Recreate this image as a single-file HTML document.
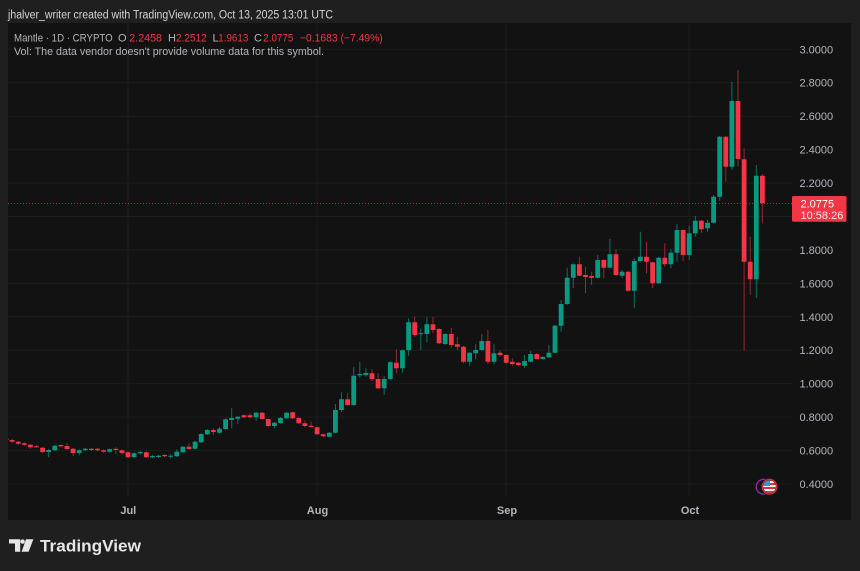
<!DOCTYPE html>
<html><head><meta charset="utf-8"><style>
html,body{margin:0;padding:0;background:#1f1f1f;}
svg{display:block;font-family:"Liberation Sans",sans-serif;}
</style></head><body>
<svg width="860" height="571" viewBox="0 0 860 571" xmlns="http://www.w3.org/2000/svg">
<defs><clipPath id="pa"><rect x="8" y="23" width="784" height="474"/></clipPath>
<clipPath id="fc"><circle cx="769.5" cy="486.7" r="6.3"/></clipPath></defs>
<rect x="0" y="0" width="860" height="571" fill="#1f1f1f"/>
<rect x="8" y="23" width="843" height="497" fill="#121212"/>
<g stroke="#1d1d1d" stroke-width="1">
<path d="M8 49.3H792M8 82.7H792M8 116.2H792M8 149.6H792M8 183H792M8 216.5H792M8 249.9H792M8 283.4H792M8 316.8H792M8 350.2H792M8 383.7H792M8 417.1H792M8 450.6H792M8 484H792"/>
<path d="M128 23V497M317.1 23V497M506.2 23V497M689.2 23V497"/>
</g>
<g clip-path="url(#pa)" fill="none">
<path stroke="#089981" stroke-opacity="0.7" stroke-width="1" d="M48.7 449V457.3M54.8 445V451M79.2 449.5V455.3M85.3 448V451M109.7 448.5V452.5M134.1 452.5V458M140.2 451V454.7M152.4 455V458M158.5 455V458M170.7 454V458.7M176.8 449.5V457M182.9 446V453M195.1 441V449.5M201.2 433V443M207.3 429V435M219.5 427V433.5M225.6 418.5V429.5M231.7 408.3V428.3M237.8 416V424M256.1 412V420.7M274.4 422V428.3M280.5 417.3V423.7M286.6 412V419M329.3 432V437.3M335.4 404V433.5M341.5 392.3V412M353.7 366.7V406M359.8 361.7V377.7M365.9 368.3V376.7M384.2 375.7V395M390.3 361V380M402.5 349.5V372.7M408.6 318.3V355.7M420.8 328.3V350M426.9 316.7V342.3M445.2 333.3V344.7M469.6 352V365.7M475.7 344.3V359M481.8 334.3V350.7M494 344.3V364.3M524.5 355V368.3M530.6 351V362.3M542.8 356.3V359.7M548.9 345V358M555 325V353.3M561.1 300V331.7M567.2 267.7V304.7M573.3 263.5V288.3M597.7 255V278.3M609.9 239V268.3M622.1 270V278M634.3 258.3V308.3M640.4 231.7V261.7M658.7 257V284M670.9 249.3V268.3M677 224V261.7M689.2 225.7V260M695.3 216V236.7M707.5 220V232M713.6 195V223.3M719.7 136V200.7M731.9 81.7V170M756.3 165V298.3"/>
<path stroke="#f23645" stroke-opacity="0.6" stroke-width="1" d="M6 437V441M12.1 439V443M18.2 441V445.3M24.3 442.3V445.7M30.4 444V448.7M36.5 444.7V448M42.6 447V453M60.9 444.3V447.7M67 443.3V450M73.1 448V456M91.4 448V451M97.5 448V451M103.6 449.5V453M115.8 447.3V453.7M121.9 449.5V454.7M128 451.5V458M146.3 451.5V458M164.6 454.3V457M189 443.3V450M213.4 428.3V435M243.9 414.5V418M250 413.3V418.3M262.2 412V419.7M268.3 418.5V426.7M292.7 411.5V419M298.8 417.3V424M304.9 420.7V427.3M311 421.7V427.7M317.1 426.5V435M323.2 433.5V437M347.6 393V406M372 369V381M378.1 373.3V389M396.4 349.3V373.3M414.7 316.7V336.7M433 316.7V333.3M439.1 328.3V344M451.3 328V348.3M457.4 336.7V350M463.5 346V363.3M487.9 330V364M500.1 350.7V356.7M506.2 354.3V364.3M512.3 358.3V366M518.4 362V365.7M536.7 353.3V359.7M579.4 256.7V276.3M585.5 266.7V293.3M591.6 271.7V285M603.8 259.3V278.3M616 249V275.7M628.2 271V291.7M646.5 241.7V273.3M652.6 261.7V288.3M664.8 243.3V266.7M683.1 229.3V261M701.4 220V232.7M725.8 136V181.7M738 70V166.7M744.1 148.3V350.7M750.2 236.7V295M762.4 174V223.3"/>
<path stroke="#089981" stroke-width="4.8" d="M48.7 450V452M54.8 445.7V450.3M79.2 450.3V453M85.3 448.7V450.3M109.7 449.3V451.7M134.1 453.3V457M140.2 452V453.3M152.4 456V457.3M158.5 455.7V457M170.7 455.7V456.7M176.8 451.7V456.3M182.9 446.7V452.3M195.1 441.7V448.7M201.2 434V442.3M207.3 430V434.3M219.5 428.7V432.7M225.6 419.3V429M231.7 418V420M237.8 416.7V418.7M256.1 412.7V417.3M274.4 422.7V426M280.5 418V423M286.6 412.7V418.3M329.3 432.7V436.7M335.4 410V432.7M341.5 399.3V410M353.7 375.7V405M359.8 374V375.3M365.9 373V375M384.2 379V388.3M390.3 362.3V379M402.5 350.3V368.3M408.6 322.3V350M420.8 333.3V334.3M426.9 324.3V334M445.2 334V344M469.6 352.7V361.7M475.7 350V353.3M481.8 341V350M494 353.3V361.7M524.5 361V365.7M530.6 354V361.7M542.8 357V359M548.9 352.7V357.3M555 325.7V352.7M561.1 304V325.7M567.2 277.7V304M573.3 264.3V277.7M597.7 260V277.7M609.9 254.3V267.7M622.1 271.7V275.7M634.3 261V290.7M640.4 256.7V261M658.7 257.7V283.3M670.9 252.7V264.3M677 230V252.7M689.2 233.3V255M695.3 220.7V233.3M707.5 222.7V228.3M713.6 196.7V222.7M719.7 136.7V196.7M731.9 101V166.7M756.3 175.7V279.3"/>
<path stroke="#f23645" stroke-width="4.8" d="M6 438.3V440M12.1 440V441.7M18.2 441.7V443.7M24.3 443.3V444.7M30.4 444.7V447.3M36.5 446.3V447.3M42.6 447.7V452M60.9 445V446.3M67 446V449M73.1 448.7V453M91.4 448.7V450M97.5 448.7V450.3M103.6 450.3V451.7M115.8 448.7V450M121.9 450.3V453M128 452.3V457.3M146.3 452.3V457.3M164.6 455V456.3M189 446.7V449M213.4 430V432M243.9 415.3V417.3M250 415.3V417.3M262.2 412.7V419M268.3 419V426M292.7 412.3V418.3M298.8 418V423.3M304.9 423.3V426M311 425.7V427M317.1 427.3V434.3M323.2 434.3V436.3M347.6 399.3V405M372 373.3V379M378.1 379V388.3M396.4 362.7V368.3M414.7 322.3V335M433 324.3V330M439.1 329V343.3M451.3 334V345M457.4 344.3V346.7M463.5 346.7V361.7M487.9 341V361.7M500.1 352.7V355M506.2 355V362.7M512.3 361.7V364M518.4 362.7V365M536.7 354V359M579.4 264.3V275.7M585.5 275V277M591.6 276V277.7M603.8 260V267.7M616 254.3V275M628.2 271.7V290.7M646.5 256.7V261.7M652.6 262.3V283.3M664.8 257.7V264.3M683.1 230V255M701.4 220.7V229.3M725.8 136.7V166.7M738 101V159M744.1 159.3V261.7M750.2 261.7V279.3M762.4 175.7V203.3"/>
</g>
<path d="M8 203.5H792" stroke="#f23645" stroke-opacity="0.7" stroke-width="1" stroke-dasharray="1 2"/>
<g font-size="11" fill="#b2b5be">
<text x="799.5" y="53.3">3.0000</text>
<text x="799.5" y="86.7">2.8000</text>
<text x="799.5" y="120.2">2.6000</text>
<text x="799.5" y="153.6">2.4000</text>
<text x="799.5" y="187">2.2000</text>
<text x="799.5" y="253.9">1.8000</text>
<text x="799.5" y="287.4">1.6000</text>
<text x="799.5" y="320.8">1.4000</text>
<text x="799.5" y="354.2">1.2000</text>
<text x="799.5" y="387.7">1.0000</text>
<text x="799.5" y="421.1">0.8000</text>
<text x="799.5" y="454.6">0.6000</text>
<text x="799.5" y="488">0.4000</text>
</g>
<rect x="792" y="196" width="54.5" height="25.7" rx="1.5" fill="#f23645"/>
<text x="800.5" y="207.5" font-size="11" fill="#ffffff">2.0775</text>
<text x="800.5" y="219" font-size="11" fill="#ffe6e8">10:58:26</text>
<g font-size="11" fill="#b2b5be" text-anchor="middle" font-weight="bold">
<text x="128.3" y="514">Jul</text>
<text x="317.5" y="514">Aug</text>
<text x="507" y="514">Sep</text>
<text x="690" y="514">Oct</text>
</g>
<text x="8" y="18.5" font-size="11.5" fill="#d4d4d4" textLength="325" lengthAdjust="spacingAndGlyphs">jhalver_writer created with TradingView.com, Oct 13, 2025 13:01 UTC</text>
<g font-size="11">
<text x="14" y="41.3" fill="#b2b5be" textLength="98.7" lengthAdjust="spacingAndGlyphs">Mantle · 1D · CRYPTO</text>
<text x="118" y="41.3" fill="#b2b5be">O</text>
<text x="129.3" y="41.3" fill="#f23645" textLength="32.7" lengthAdjust="spacingAndGlyphs">2.2458</text>
<text x="168" y="41.3" fill="#b2b5be">H</text>
<text x="176" y="41.3" fill="#f23645" textLength="30.7" lengthAdjust="spacingAndGlyphs">2.2512</text>
<text x="212.5" y="41.3" fill="#b2b5be">L</text>
<text x="218.3" y="41.3" fill="#f23645" textLength="30" lengthAdjust="spacingAndGlyphs">1.9613</text>
<text x="254" y="41.3" fill="#b2b5be">C</text>
<text x="263.3" y="41.3" fill="#f23645" textLength="30" lengthAdjust="spacingAndGlyphs">2.0775</text>
<text x="300" y="41.3" fill="#f23645" textLength="82.7" lengthAdjust="spacingAndGlyphs">−0.1683 (−7.49%)</text>
<text x="14" y="55" fill="#b2b5be" textLength="310" lengthAdjust="spacingAndGlyphs">Vol: The data vendor doesn't provide volume data for this symbol.</text>
</g>
<circle cx="763.5" cy="486.7" r="7.3" fill="none" stroke="#9c27b0" stroke-width="1.3"/>
<circle cx="769.5" cy="486.7" r="8.3" fill="#121212"/>
<g clip-path="url(#fc)">
<rect x="762" y="479" width="16" height="16" fill="#ffffff"/>
<rect x="762" y="479" width="16" height="2" fill="#e0303c"/>
<rect x="762" y="483" width="16" height="2" fill="#e0303c"/>
<rect x="762" y="487" width="16" height="2" fill="#e0303c"/>
<rect x="762" y="491" width="16" height="2" fill="#e0303c"/>
<rect x="762" y="479" width="8" height="7" fill="#3d8ee0"/>
</g>
<circle cx="769.5" cy="486.7" r="7.3" fill="none" stroke="#e0303c" stroke-width="1.3"/>
<g fill="#e6e6e6">
<path d="M9 539.3H20.2V551.7H15V543.5H9Z"/>
<circle cx="22.6" cy="541.6" r="2.2"/>
<path d="M26 539.3H33.4L28.6 551.7H21.6Z"/>
</g>
<text x="40" y="551.5" font-size="17" font-weight="bold" fill="#e6e6e6" textLength="101" lengthAdjust="spacingAndGlyphs">TradingView</text>
</svg>
</body></html>
